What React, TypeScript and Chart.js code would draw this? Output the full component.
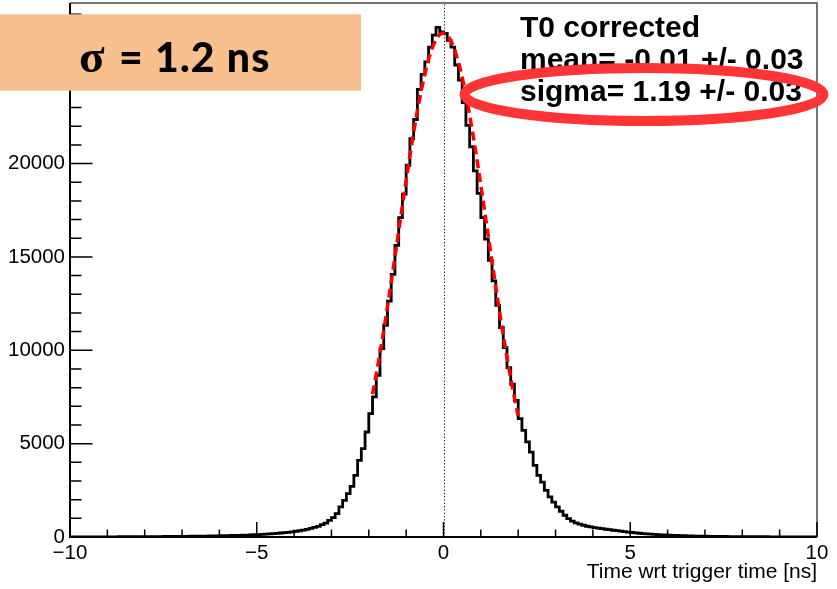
import React, { useEffect, useRef } from "react";
import { Chart, registerables } from "chart.js";

Chart.register(...registerables);

// ---------------- data ----------------
const binLow = -10;
const binWidth = 0.1;

// counts per 0.1 ns bin
const countsTailLeft = [
  6, 7, 7, 7, 8, 8, 9, 9, 10, 10,
  11, 11, 12, 13, 13, 14, 15, 16, 17, 18,
  19, 20, 22, 23, 24, 26, 27, 29, 31, 33,
  35, 37, 40, 42, 45, 48, 51, 54, 58, 62,
  66, 70, 75, 80, 86, 92, 98, 105, 112, 120,
  130, 142, 155, 168, 182, 197, 213, 230, 250, 275,
];
const countsCoreLeft = [
  300, 335, 370, 410, 460, 515, 570, 660, 745, 890,
  1037, 1254, 1611, 1964, 2321, 2714, 3303, 4109, 4733, 5624,
  6610, 7500, 8660, 10090, 11340, 12630, 14070, 15620, 17110, 18360,
  19910, 21340, 22360, 23970, 24780, 25450, 26240, 26880, 27290, 27050,
];
const countsCoreRight = [
  26970, 26600, 26240, 25280, 24470, 23260, 22050, 20900, 19610, 18400,
  17110, 15950, 14820, 13720, 12410, 11220, 10140, 9070, 8180, 7320,
  6340, 5710, 5090, 4550, 3840, 3300, 2940, 2500, 2145, 1870,
  1610, 1380, 1165, 985, 845, 755, 685, 630, 575, 540,
];
const countsTailRight = [
  505, 475, 445, 415, 390, 362, 337, 312, 287, 262,
  240, 220, 202, 186, 171, 157, 144, 131, 119, 108,
  98, 89, 81, 74, 68, 62, 57, 52, 48, 44,
  40, 37, 34, 31, 29, 27, 25, 23, 21, 20,
  19, 18, 17, 16, 15, 14, 13, 12, 12, 11,
  10, 10, 9, 9, 8, 8, 8, 7, 7, 7,
];

// gaussian fit curve (red dashed)
const fitX = [
  -1.9, -1.8, -1.7, -1.6, -1.5, -1.4, -1.3, -1.2, -1.1, -1.0,
  -0.9, -0.8, -0.7, -0.6, -0.5, -0.4, -0.3, -0.2, -0.1, 0.0,
  0.1, 0.2, 0.3, 0.4, 0.5, 0.6, 0.7, 0.8, 0.9, 1.0,
  1.1, 1.2, 1.3, 1.4, 1.5, 1.6, 1.7, 1.8, 1.9, 2.0,
];
const fitY = [
  7650, 8710, 9850, 11060, 12330, 13650, 15000, 16380, 17750, 19100,
  20410, 21660, 22820, 23880, 24800, 25590, 26210, 26660, 26920, 27000,
  26890, 26580, 26100, 25440, 24630, 23680, 22600, 21420, 20160, 18830,
  17470, 16100, 14730, 13380, 12070, 10810, 9610, 8490, 7450, 6480,
];

const xMin = -10;
const xMax = 10;
const yMin = 0;
const yMax = 28600;
const xTickValues = [-10, -5, 0, 5, 10];
const xTickLabels = ["\u221210", "\u22125", "0", "5", "10"];
const yTickValues = [0, 5000, 10000, 15000, 20000, 25000];
const yTickLabels = ["0", "5000", "10000", "15000", "20000", "25000"];
const xMinorStep = 1;
const xMajorStep = 5;
const yMinorStep = 1000;
const yMajorStep = 5000;
const markerLineX = 0;

const xTitle = "Time wrt trigger time [ns]";
const statsLines = ["T0 corrected", "mean= -0.01 +/- 0.03", "sigma= 1.19 +/- 0.03"];
const boxSymbol = "\u03C3";
const boxText = "= 1.2 ns";

// ---------------- component ----------------
const decorPlugin = {
  id: "rootDecor",
  beforeDraw(chart: any) {
    const { ctx, width, height } = chart;
    ctx.save();
    ctx.fillStyle = "#ffffff";
    ctx.fillRect(0, 0, width, height);
    ctx.restore();
  },
  beforeDatasetsDraw(chart: any) {
    const { ctx, chartArea: a, scales } = chart;
    const px = Math.round(scales.x.getPixelForValue(markerLineX)) + 0.5;
    ctx.save();
    ctx.strokeStyle = "#222";
    ctx.lineWidth = 1;
    ctx.setLineDash([1.3, 2]);
    ctx.beginPath();
    ctx.moveTo(px, a.bottom);
    ctx.lineTo(px, a.top);
    ctx.stroke();
    ctx.restore();
  },
  afterDatasetsDraw(chart: any) {
    const { ctx, chartArea: a, scales } = chart;
    ctx.save();
    // frame top/right
    ctx.strokeStyle = "#4a4a4a";
    ctx.lineWidth = 1.5;
    ctx.beginPath();
    ctx.moveTo(a.left, a.top);
    ctx.lineTo(a.right, a.top);
    ctx.lineTo(a.right, a.bottom);
    ctx.stroke();
    // axes
    ctx.strokeStyle = "#000";
    ctx.lineWidth = 2;
    ctx.beginPath();
    ctx.moveTo(a.left, a.top);
    ctx.lineTo(a.left, a.bottom);
    ctx.lineTo(a.right, a.bottom);
    ctx.stroke();
    // ticks
    ctx.lineWidth = 1.5;
    ctx.beginPath();
    for (let v = yMin + yMinorStep; v <= yMax; v += yMinorStep) {
      const y = scales.y.getPixelForValue(v);
      const len = v % yMajorStep === 0 ? 22.5 : 11.5;
      ctx.moveTo(a.left, y);
      ctx.lineTo(a.left + len, y);
    }
    for (let v = xMin; v <= xMax + 1e-9; v += xMinorStep) {
      const x = scales.x.getPixelForValue(v);
      const len = Math.abs(v % xMajorStep) < 1e-9 ? 15 : 7.5;
      ctx.moveTo(x, a.bottom);
      ctx.lineTo(x, a.bottom - len);
    }
    ctx.stroke();
    ctx.restore();
  },
  afterDraw(chart: any) {
    const { ctx } = chart;
    ctx.save();
    // stats text
    ctx.fillStyle = "#000";
    ctx.font = "bold 30px 'Liberation Sans', Arial, sans-serif";
    ctx.textAlign = "left";
    ctx.textBaseline = "alphabetic";
    const baselines = [36.7, 68.5, 100.5];
    statsLines.forEach((t, i) => ctx.fillText(t, 520, baselines[i]));
    // red ellipse
    ctx.strokeStyle = "rgb(255,52,52)";
    ctx.lineWidth = 10;
    ctx.beginPath();
    ctx.ellipse(644, 94.5, 179.5, 26.5, 0, 0, Math.PI * 2);
    ctx.stroke();
    // orange box
    ctx.fillStyle = "rgb(249,192,143)";
    ctx.fillRect(0, 14.3, 361, 76.4);
    ctx.fillStyle = "#000";
    ctx.font = "bold 47px 'Liberation Serif', 'DejaVu Serif', serif";
    ctx.fillText(boxSymbol, 79, 71.7);
    ctx.font = "900 41px Lato, 'Open Sans', sans-serif";
    try {
      (ctx as any).letterSpacing = "1.2px";
    } catch (e) {}
    ctx.fillText(boxText, 119, 71.7);
    ctx.restore();
  },
};

export default function App() {
  const canvasRef = useRef<HTMLCanvasElement | null>(null);

  useEffect(() => {
    const canvas = canvasRef.current;
    if (!canvas) return;
    const counts = [...countsTailLeft, ...countsCoreLeft, ...countsCoreRight, ...countsTailRight];
    const histPoints = counts.map((c, i) => ({ x: binLow + i * binWidth, y: c }));
    histPoints.push({ x: binLow + counts.length * binWidth, y: counts[counts.length - 1] });
    const fitPoints = fitX.map((x, i) => ({ x, y: fitY[i] }));

    const chart = new Chart(canvas, {
      type: "line",
      data: {
        datasets: [
          {
            label: "fit",
            data: fitPoints,
            borderColor: "rgb(255,0,0)",
            borderWidth: 3.5,
            borderDash: [9, 5],
            pointRadius: 0,
            fill: false,
            tension: 0,
            order: 0,
          },
          {
            label: "hist",
            data: histPoints,
            borderColor: "#000",
            borderWidth: 2.8,
            pointRadius: 0,
            fill: false,
            stepped: "before",
            order: 1,
          },
        ],
      },
      options: {
        responsive: false,
        animation: false,
        events: [],
        layout: { padding: { left: 0, right: 20, top: 3, bottom: 0 } },
        plugins: { legend: { display: false }, tooltip: { enabled: false } },
        scales: {
          x: {
            type: "linear",
            min: xMin,
            max: xMax,
            grid: { display: false, drawTicks: false },
            border: { display: false },
            afterBuildTicks: (s: any) => {
              s.ticks = xTickValues.map((v) => ({ value: v }));
            },
            ticks: {
              autoSkip: false,
              maxRotation: 0,
              padding: 4,
              color: "#000",
              font: { family: "'Liberation Sans', Arial, sans-serif", size: 20.5 },
              callback: (v: any) => xTickLabels[xTickValues.indexOf(Number(v))] ?? "",
            },
            title: {
              display: true,
              text: xTitle,
              align: "end",
              color: "#000",
              font: { family: "'Liberation Sans', Arial, sans-serif", size: 21 },
              padding: { top: 0, bottom: 4 },
            },
            afterFit: (s: any) => {
              s.height = 52;
              s.paddingLeft = 0;
              s.paddingRight = 0;
            },
          },
          y: {
            type: "linear",
            min: yMin,
            max: yMax,
            grid: { display: false, drawTicks: false },
            border: { display: false },
            afterBuildTicks: (s: any) => {
              s.ticks = yTickValues.map((v) => ({ value: v }));
            },
            ticks: {
              autoSkip: false,
              padding: 5,
              color: "#000",
              font: { family: "'Liberation Sans', Arial, sans-serif", size: 20.5 },
              callback: (v: any) => yTickLabels[yTickValues.indexOf(Number(v))] ?? "",
            },
            afterFit: (s: any) => {
              s.width = 70;
              s.paddingTop = 0;
              s.paddingBottom = 0;
            },
          },
        },
      },
      plugins: [decorPlugin],
    } as any);

    return () => chart.destroy();
  }, []);

  return (
    <div style={{ position: "absolute", left: 0, top: 0, width: 837, height: 589 }}>
      <canvas ref={canvasRef} width={837} height={589} style={{ width: 837, height: 589, display: "block" }} />
    </div>
  );
}
